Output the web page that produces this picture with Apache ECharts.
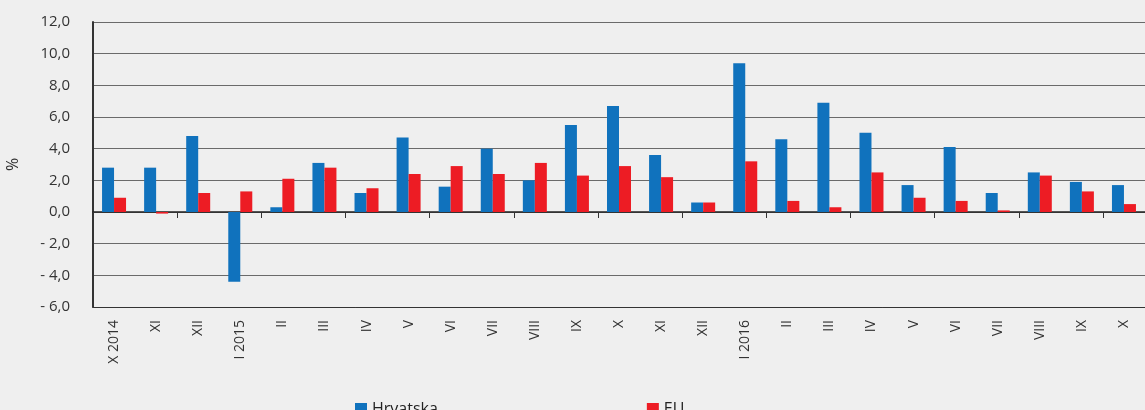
<!DOCTYPE html>
<html>
<head>
<meta charset="utf-8">
<script src="https://cdn.jsdelivr.net/npm/echarts@6/dist/echarts.min.js"></script>
<style>
  html, body { margin: 0; padding: 0; background: #efefef; }
  #chart { width: 1145px; height: 410px; }
</style>
</head>
<body>
<div id="chart"></div>
<script>
"use strict";

// months, X 2014 .. X 2016
var months = ["X 2014", "XI", "XII", "I 2015", "II", "III", "IV", "V", "VI", "VII", "VIII", "IX",
  "X", "XI", "XII", "I 2016", "II", "III", "IV", "V", "VI", "VII", "VIII", "IX", "X"];
var hrvatska = [2.8, 2.8, 4.8, -4.4, 0.3, 3.1, 1.2, 4.7, 1.6, 4.0, 2.0, 5.5,
  6.7, 3.6, 0.6, 9.4, 4.6, 6.9, 5.0, 1.7, 4.1, 1.2, 2.5, 1.9, 1.7];
var eu = [0.9, -0.1, 1.2, 1.3, 2.1, 2.8, 1.5, 2.4, 2.9, 2.4, 3.1, 2.3,
  2.9, 2.2, 0.6, 3.2, 0.7, 0.3, 2.5, 0.9, 0.7, 0.1, 2.3, 1.3, 0.5];
var seriesNames = ["Hrvatska", "EU"];

var myChart = echarts.init(document.getElementById("chart"));
var font = "Open Sans";

function fmt(v) {
  var s = Math.abs(v).toFixed(1).replace(".", ",");
  return v < 0 ? "- " + s : s;
}

var option = {
  backgroundColor: "#efefef",
  animation: false,
  textStyle: { fontFamily: font },
  grid: { left: 93, right: 0, top: 22, bottom: 103, outerBoundsMode: "none", containLabel: false },
  legend: {
    data: seriesNames,
    left: 350,
    top: 396,
    itemGap: 209,
    itemWidth: 12,
    itemHeight: 12,
    icon: "rect",
    textStyle: { fontSize: 16, color: "#222", fontFamily: font }
  },
  xAxis: [
    {
      type: "category",
      data: months,
      position: "bottom",
      axisLine: { onZero: false, lineStyle: { color: "#333", width: 1 } },
      axisTick: { show: false },
      axisLabel: { rotate: 90, margin: 13, fontSize: 14, color: "#333", fontFamily: font }
    },
    {
      type: "category",
      data: months,
      position: "bottom",
      axisLine: { onZero: true, lineStyle: { color: "#222", width: 1.5 } },
      axisTick: { show: true, length: 6, lineStyle: { color: "#333" } },
      axisLabel: { show: false }
    }
  ],
  yAxis: {
    type: "value",
    min: -6,
    max: 12,
    interval: 2,
    name: "%",
    nameLocation: "middle",
    nameGap: 72,
    nameRotate: 90,
    nameTextStyle: { fontSize: 16, color: "#333", fontFamily: font },
    axisLine: { show: true, lineStyle: { color: "#333", width: 2 } },
    axisTick: { show: false },
    axisLabel: { formatter: fmt, margin: 23, fontSize: 15, color: "#333", fontFamily: font },
    splitLine: { lineStyle: { color: "#6a6a6a", width: 1 } }
  },
  series: [
    {
      name: seriesNames[0],
      type: "bar",
      xAxisIndex: 0,
      data: hrvatska,
      barWidth: 12,
      barGap: "0%",
      itemStyle: { color: "#1072bd" }
    },
    {
      name: seriesNames[1],
      type: "bar",
      xAxisIndex: 0,
      data: eu,
      barWidth: 12,
      barGap: "0%",
      itemStyle: { color: "#ed1c24" }
    }
  ]
};

myChart.setOption(option);
</script>
</body>
</html>
